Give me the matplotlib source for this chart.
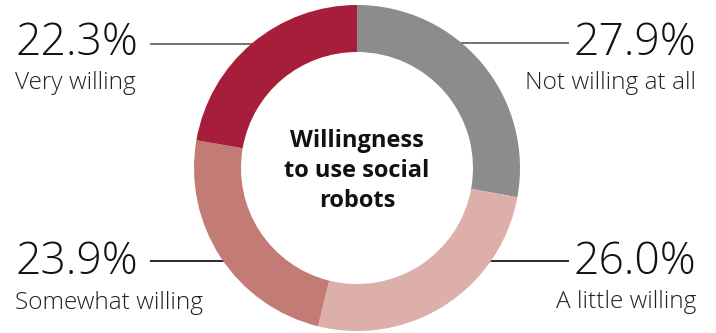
import numpy as np
import matplotlib
matplotlib.use("Agg")
import matplotlib.pyplot as plt

# ------------------ DATA ------------------ #
labels  = ["Not willing at all", "A little willing", "Somewhat willing", "Very willing"]
shares  = [27.9, 26.0, 23.9, 22.3]
colors  = ["#8c8c8d", "#dcafa9", "#c37b75", "#a61e3a"]
title   = "Willingness\nto use social\nrobots"
# ------------------------------------------ #

W, H = 716, 333
CX, CY = 357, 165      # donut centre (pixel units, y up)
R_OUT, RING = 163, 47

fig = plt.figure(figsize=(W / 100, H / 100), dpi=100)
ax = fig.add_axes([0, 0, 1, 1])

ax.pie(shares, colors=colors, startangle=90, counterclock=False,
       center=(CX, CY), radius=R_OUT, frame=True,
       wedgeprops=dict(width=RING, linewidth=0))
ax.set_xlim(0, W)
ax.set_ylim(0, H)
ax.set_aspect("auto")
ax.axis("off")

ax.text(CX, 162, title, ha="center", va="center", fontsize=17,
        fontweight="bold", family="Open Sans", linespacing=1.35, color="#111111")

# callouts: (label index, side, line y, line colour, pct baseline, label baseline)
callouts = [
    (3, "left",  289.5, "#727272", 278, 244),
    (0, "right", 290,   "#727272", 278, 244),
    (2, "left",  72,    "#2a2a2a", 59, 24),
    (1, "right", 72,    "#2a2a2a", 59, 25),
]
for i, side, ly, lc, py, lb in callouts:
    dx = np.sqrt(R_OUT ** 2 - (ly - CY) ** 2)
    if side == "left":
        ax.plot([151, CX - dx], [ly, ly], color=lc, lw=1.4, zorder=0)
        tx, ha = 15, "left"
    else:
        ax.plot([CX + dx, 568], [ly, ly], color=lc, lw=1.4, zorder=0)
        tx, ha = 696, "right"
    ax.text(tx, py, f"{shares[i]:.1f}%", ha=ha, va="baseline", fontsize=32,
            family="Open Sans", fontweight="light", color="#111111")
    ax.text(tx, lb, labels[i], ha=ha, va="baseline", fontsize=17.6,
            family="Open Sans", fontweight="light", color="#222222")

fig.savefig("out.png", dpi=100)
